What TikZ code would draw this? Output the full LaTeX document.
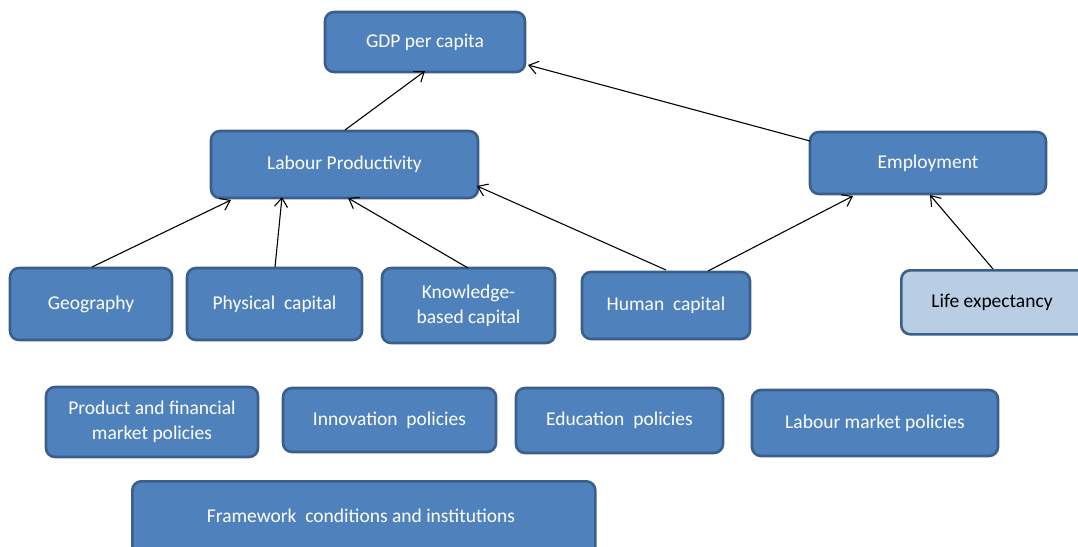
\documentclass[tikz,border=0pt]{standalone}
\usepackage{fontspec}
\setmainfont{Carlito}
\usetikzlibrary{arrows.meta}
\definecolor{boxfill}{HTML}{4F81BD}
\definecolor{boxline}{HTML}{3A5F8C}
\definecolor{lightfill}{HTML}{B9CDE5}
\tikzset{
  txt/.style={font=\fontsize{19.5}{25}\selectfont},
  box/.style={draw=boxline, line width=2.6pt, fill=boxfill, rounded corners=9pt,
    text=white, txt, align=center, inner sep=0pt},
  lightbox/.style={box, fill=lightfill, text=black},
  arr/.style={-{Straight Barb[length=9pt,width=13pt]}, line width=1.1pt, black},
}
\begin{document}
\begin{tikzpicture}[x=1pt,y=-1pt]
\useasboundingbox (0,0) rectangle (1078,546);
\newcommand{\bx}[6]{\node[#1, minimum width=#4-#2, minimum height=#5-#3] (#6) at ({(#2+#4)/2},{(#3+#5)/2+1})}
\bx{box}{325}{11}{525}{71}{gdp} {GDP per capita};
\bx{box}{211}{130}{478}{197}{lp} {Labour Productivity};
\bx{box}{810}{131}{1046}{193}{emp} {Employment};
\bx{box}{10}{267}{172}{339}{geo} {Geography};
\bx{box}{187}{267}{362}{339}{phys} {Physical\ \ capital};
\bx{box}{382}{267}{555}{342}{know} {Knowledge-\\based capital};
\bx{box}{582}{271}{750}{338}{hum} {Human\ \ capital};
\node[lightbox, minimum width=200, minimum height=64, anchor=north west] (life) at (900,269) {};
\node[txt] (lifet) at (992,302) {Life expectancy};
\bx{box}{46}{386}{258}{456}{pfm} {Product and financial\\market policies};
\bx{box}{283}{387}{496}{451}{inn} {Innovation\ \ policies};
\bx{box}{516}{387}{723}{452}{edu} {Education\ \ policies};
\bx{box}{752}{389}{998}{455}{lmp} {Labour market policies};
\node[box, minimum width=463, minimum height=90, anchor=north west] (fw) at (131,480) {};
\node[txt, text=white] (fwt) at (361,516) {Framework\ \ conditions and institutions};
% connectors
\coordinate (lpT) at (345,130); \coordinate (gdpB) at (425,71);
\draw[arr] (lpT) -- (gdpB);
\coordinate (empL) at (810,141); \coordinate (gdpR) at (528,65);
\draw[arr] (empL) -- (gdpR);
\coordinate (geoT) at (92,267); \coordinate (lpA) at (231,200);
\draw[arr] (geoT) -- (lpA);
\coordinate (phT) at (275,267); \coordinate (lpB) at (282,197);
\draw[arr] (phT) -- (lpB);
\coordinate (knT) at (468,268); \coordinate (lpC) at (348,198);
\draw[arr] (knT) -- (lpC);
\coordinate (huA) at (666,270); \coordinate (lpD) at (477,186);
\draw[arr] (huA) -- (lpD);
\coordinate (huB) at (708,271); \coordinate (empB) at (853,196);
\draw[arr] (huB) -- (empB);
\coordinate (liT) at (993,269); \coordinate (empC) at (930,195);
\draw[arr] (liT) -- (empC);
\end{tikzpicture}
\end{document}
